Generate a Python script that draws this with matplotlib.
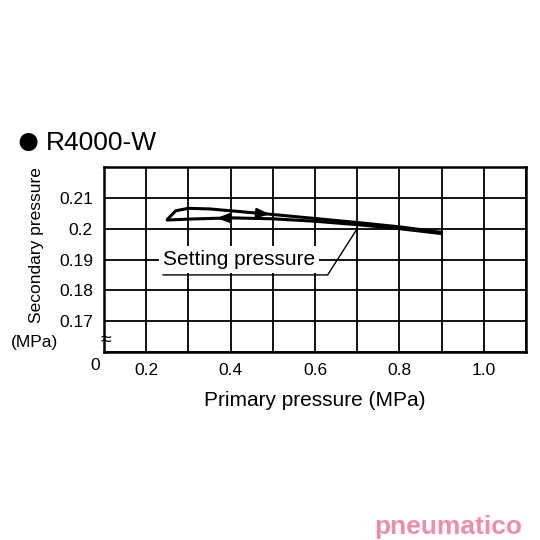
import matplotlib
matplotlib.use("Agg")
import matplotlib.pyplot as plt
plt.rcParams['font.family'] = ['Liberation Sans', 'DejaVu Sans']

up_x = [0.25, 0.27, 0.30, 0.35, 0.40, 0.50, 0.60, 0.70, 0.80, 0.90]
up_y = [0.2030, 0.2058, 0.2066, 0.2064, 0.2058, 0.2046, 0.2033, 0.2020, 0.2006, 0.1988]
lo_x = [0.25, 0.30, 0.40, 0.50, 0.60, 0.70, 0.80, 0.90]
lo_y = [0.2028, 0.2031, 0.2035, 0.2032, 0.2024, 0.2013, 0.2000, 0.1984]
xticks = [0.2, 0.4, 0.6, 0.8, 1.0]
xlabels = ["0.2", "0.4", "0.6", "0.8", "1.0"]
yticks = [0.17, 0.18, 0.19, 0.2, 0.21]
ylabels = ["0.17", "0.18", "0.19", "0.2", "0.21"]

fig = plt.figure(figsize=(5.4, 5.4), dpi=100)
ax = fig.add_axes([104/540, 1-352/540, 422/540, 185/540])
ax.set_xlim(0.1, 1.1)
ax.set_ylim(0.16, 0.22)
for i in range(11):
    ax.axvline(0.1 + i*0.1, color="black", lw=1.3, zorder=1)
for j in range(7):
    ax.axhline(0.16 + j*0.01, color="black", lw=1.3, zorder=1)
for s in ax.spines.values():
    s.set_linewidth(1.8)
ax.set_xticks(xticks, xlabels, fontsize=12.5)
ax.set_yticks(yticks, ylabels, fontsize=12.5)
ax.tick_params(length=0, pad=8)
ax.plot(up_x, up_y, color="black", lw=2.2, zorder=3, solid_capstyle="round")
ax.plot(lo_x, lo_y, color="black", lw=2.2, zorder=3, solid_capstyle="round")
ax.annotate("", xy=(0.50, 0.2046), xytext=(0.43, 0.2054),
            arrowprops=dict(arrowstyle="-|>,head_length=0.8,head_width=0.3", color="black", lw=1.5), zorder=4)
ax.annotate("", xy=(0.36, 0.2034), xytext=(0.43, 0.2035),
            arrowprops=dict(arrowstyle="-|>,head_length=0.8,head_width=0.3", color="black", lw=1.5), zorder=4)
ax.text(0.24, 0.1901, "Setting pressure", fontsize=15, va="center", ha="left", zorder=5,
        bbox=dict(facecolor="white", edgecolor="none", pad=3))
ax.plot([0.24, 0.63, 0.7], [0.1850, 0.1850, 0.2], color="black", lw=1, zorder=5)
ax.set_xlabel("Primary pressure (MPa)", fontsize=15, labelpad=9)
fig.text(37/540, 1-245/540, "Secondary pressure", rotation=90, fontsize=12.5, ha="center", va="center")
fig.text(35/540, 1-342/540, "(MPa)", fontsize=12.5, ha="center", va="center")
fig.text(95/540, 1-365/540, "0", fontsize=12.5, ha="center", va="center")
fig.text(106/540, 1-341/540, "≈", fontsize=14, ha="center", va="center")
fig.text(28/540, 1-143/540, "●", fontsize=30, ha="center", va="center")
fig.text(46/540, 1-143/540, "R4000-W", fontsize=19, ha="left", va="center")
fig.text(448/540, 1-527/540, "pneumatico", fontsize=19, color="#f08caa", fontweight="bold",
         ha="center", va="center")
fig.savefig("out.png", dpi=100)
